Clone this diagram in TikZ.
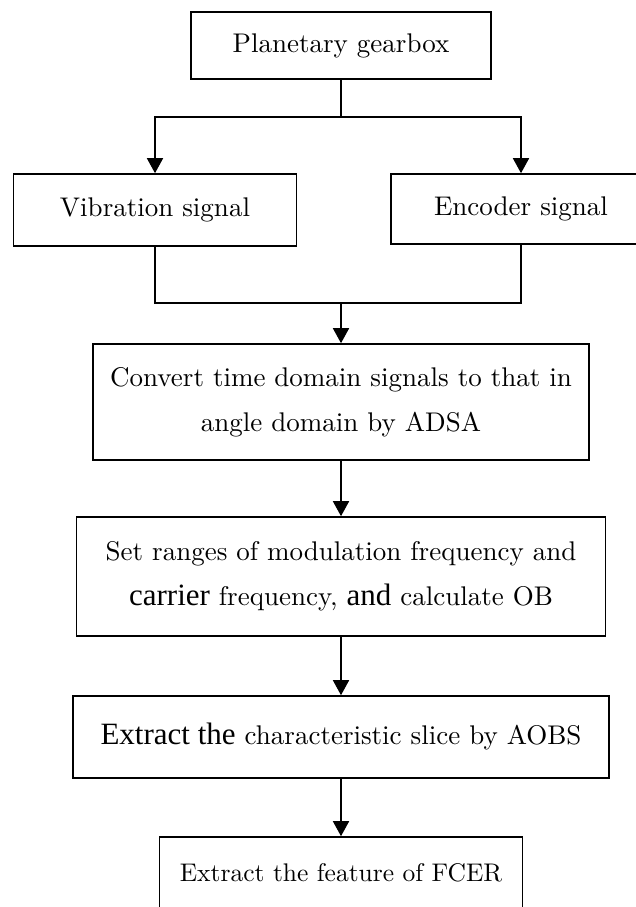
\documentclass[tikz,border=0pt]{standalone}
\usepackage{fontspec}
\setmainfont{lmroman10-regular}[Extension=.otf]
\newfontfamily\timesfont{Liberation Serif}
\usetikzlibrary{arrows.meta}

\begin{document}
\begin{tikzpicture}[x=1pt,y=-1pt,
    caja/.style={draw, line width=1.6pt, inner sep=0pt, align=center,
        font=\fontsize{27}{45}\selectfont},
    linea/.style={line width=1.6pt},
    flecha/.style={line width=1.6pt, -{Triangle[width=16pt,length=15pt]}}]
        % Step 0: page size as in the original figure
        \useasboundingbox (0,0) rectangle (636,907);

        % Step 1: the gearbox and the two measured signals
        \node[caja, minimum width=300pt, minimum height=67pt] (gearbox) at (341,45.5) {Planetary gearbox};
        \node[caja, minimum width=283pt, minimum height=72pt] (vibration) at (155,210) {Vibration signal};
        \node[caja, minimum width=260pt, minimum height=70pt] (encoder) at (521,209) {Encoder signal};

        % Step 2: the processing steps, one under the other
        \node[caja, minimum width=496pt, minimum height=116pt] (convert) at (341,402)
            {Convert time domain signals to that in\\ angle domain by ADSA};
        \node[caja, minimum width=529pt, minimum height=119pt] (ranges) at (341,576.5)
            {Set ranges of modulation frequency and\\ {\timesfont\fontsize{31}{45}\selectfont carrier} frequency, {\timesfont\fontsize{31}{45}\selectfont and} calculate OB};
        \node[caja, minimum width=536pt, minimum height=82pt] (slice) at (341,737)
            {{\timesfont\fontsize{31}{45}\selectfont Extract the} characteristic slice by AOBS};
        \node[caja, minimum width=363pt, minimum height=72pt, font=\fontsize{25.5}{45}\selectfont] (fcer) at (341,873) {Extract the feature of FCER};

        % Step 3: split the gearbox into the two signals
        \coordinate (split) at (341,117);
        \draw[linea] (gearbox.south) -- (split);
        \draw[flecha] (split) -| (vibration.north);
        \draw[flecha] (split) -| (encoder.north);

        % Step 4: join the two signals again
        \coordinate (join) at (341,303);
        \draw[linea] (vibration.south) |- (join) -| (encoder.south);
        \draw[flecha] (join) -- (convert.north);

        % Step 5: the arrows down the chain
        \draw[flecha] (convert) -- (ranges);
        \draw[flecha] (ranges) -- (slice);
        \draw[flecha] (slice) -- (fcer);
    \end{tikzpicture}
\end{document}
